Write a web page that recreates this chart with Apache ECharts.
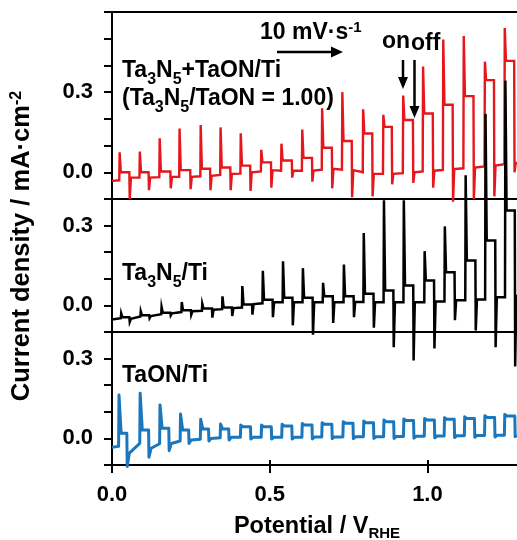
<!DOCTYPE html>
<html><head><meta charset="utf-8">
<script src="https://cdn.jsdelivr.net/npm/echarts@6/dist/echarts.min.js"></script>
<style>html,body{margin:0;padding:0;background:#fff}#c{width:517px;height:540px}</style>
</head><body><div id="c"></div>
<script>
// ---- data ----
const xTicks = [0.0, 0.5, 1.0];
const xMax = 1.284;
const yTicksTop = [-0.1, 0.0, 0.1, 0.2, 0.3, 0.4, 0.5, 0.6];
const yTicksLow = [-0.1, 0.0, 0.1, 0.2, 0.3, 0.4];
const yLabelValues = [0.0, 0.3];

// each chop cycle: [lightOnV, levelBeforeOn, onSpike, onPlateau, lightOffV, offSpike, darkLevel]
const redStart = [0.0, -0.032];
const redCycles = [
  [0.023, -0.030, 0.075, 0.000, 0.055, -0.100, -0.020],
  [0.087, -0.020, 0.078, 0.000, 0.116, -0.067, -0.020],
  [0.150, -0.018, 0.127, 0.003, 0.185, -0.060, -0.017],
  [0.213, -0.017, 0.164, 0.008, 0.248, -0.063, -0.017],
  [0.280, -0.015, 0.177, 0.013, 0.311, -0.067, -0.013],
  [0.343, -0.010, 0.168, 0.018, 0.375, -0.067, -0.006],
  [0.407, -0.005, 0.146, 0.025, 0.438, -0.070, 0.000],
  [0.472, 0.003, 0.084, 0.037, 0.504, -0.058, 0.008],
  [0.536, 0.006, 0.107, 0.044, 0.570, -0.020, 0.006],
  [0.602, 0.006, 0.160, 0.054, 0.634, -0.035, 0.006],
  [0.665, 0.010, 0.240, 0.092, 0.697, -0.060, 0.013],
  [0.729, 0.010, 0.300, 0.117, 0.760, -0.093, 0.008],
  [0.795, 0.000, 0.236, 0.145, 0.825, -0.090, -0.006],
  [0.859, -0.006, 0.215, 0.170, 0.887, -0.045, -0.006],
  [0.922, -0.003, 0.287, 0.196, 0.954, -0.040, 0.000],
  [0.985, 0.003, 0.396, 0.220, 1.017, -0.058, 0.006],
  [1.049, 0.009, 0.497, 0.253, 1.080, -0.110, 0.012],
  [1.114, 0.015, 0.510, 0.285, 1.146, -0.100, 0.018],
  [1.181, 0.022, 0.414, 0.345, 1.211, -0.090, 0.025],
  [1.244, 0.030, 0.540, 0.417, 1.275, 0.000, 0.035]
];

const blackStart = [0.0, -0.053];
const blackCycles = [
  [0.028, -0.048, -0.030, -0.045, 0.055, -0.062, -0.050],
  [0.090, -0.042, -0.022, -0.037, 0.118, -0.048, -0.040],
  [0.156, -0.033, -0.006, -0.028, 0.185, -0.038, -0.030],
  [0.220, -0.025, 0.013, -0.018, 0.250, -0.035, -0.022],
  [0.285, -0.020, 0.006, -0.012, 0.317, -0.046, -0.016],
  [0.349, -0.014, 0.034, -0.008, 0.380, -0.040, -0.010],
  [0.412, -0.008, 0.073, 0.003, 0.444, -0.035, 0.005],
  [0.477, 0.008, 0.130, 0.021, 0.509, -0.044, 0.013],
  [0.541, 0.012, 0.166, 0.029, 0.572, -0.075, 0.012],
  [0.604, 0.012, 0.140, 0.029, 0.636, -0.110, 0.012],
  [0.668, 0.012, 0.085, 0.034, 0.700, -0.066, 0.012],
  [0.734, 0.012, 0.154, 0.034, 0.766, -0.044, 0.013],
  [0.797, 0.013, 0.272, 0.044, 0.829, -0.084, 0.012],
  [0.861, 0.012, 0.395, 0.056, 0.892, -0.157, 0.012],
  [0.924, 0.012, 0.395, 0.075, 0.955, -0.207, 0.012],
  [0.990, 0.012, 0.204, 0.094, 1.021, -0.162, 0.015],
  [1.054, 0.015, 0.297, 0.125, 1.086, -0.056, 0.019],
  [1.120, 0.019, 0.489, 0.169, 1.152, -0.094, 0.022],
  [1.183, 0.022, 0.720, 0.244, 1.215, -0.157, 0.031],
  [1.246, 0.031, 0.845, 0.357, 1.277, -0.230, 0.040]
];

const blueStart = [0.0, -0.033];
const blueCycles = [
  [0.021, -0.030, 0.163, 0.019, 0.047, -0.106, -0.055],
  [0.088, -0.019, 0.170, 0.032, 0.116, -0.071, -0.037],
  [0.151, -0.020, 0.126, 0.038, 0.180, -0.046, -0.019],
  [0.216, -0.010, 0.092, 0.032, 0.243, -0.019, -0.006],
  [0.280, -0.003, 0.072, 0.035, 0.306, -0.010, 0.000],
  [0.343, 0.002, 0.054, 0.035, 0.370, -0.006, 0.004],
  [0.407, 0.004, 0.050, 0.044, 0.439, -0.002, 0.004],
  [0.473, 0.004, 0.050, 0.044, 0.505, -0.002, 0.004],
  [0.538, 0.004, 0.053, 0.047, 0.570, -0.002, 0.004],
  [0.602, 0.004, 0.056, 0.050, 0.634, -0.002, 0.005],
  [0.665, 0.005, 0.059, 0.053, 0.697, -0.001, 0.005],
  [0.732, 0.005, 0.063, 0.057, 0.764, -0.001, 0.006],
  [0.797, 0.006, 0.065, 0.059, 0.829, 0.000, 0.006],
  [0.861, 0.006, 0.069, 0.063, 0.893, 0.000, 0.007],
  [0.924, 0.007, 0.073, 0.067, 0.956, 0.001, 0.008],
  [0.990, 0.008, 0.075, 0.069, 1.022, 0.002, 0.009],
  [1.053, 0.009, 0.078, 0.072, 1.085, 0.003, 0.010],
  [1.117, 0.010, 0.081, 0.075, 1.149, 0.004, 0.011],
  [1.181, 0.011, 0.085, 0.079, 1.213, 0.005, 0.012],
  [1.244, 0.012, 0.090, 0.084, 1.277, 0.006, 0.013]
];

// ---- build line vertices from the read cycle values ----
function buildCurve(start, cycles, decay) {
  const pts = [start.slice()];
  cycles.forEach(function (c) {
    const on = c[0], base = c[1], peak = c[2], plat = c[3], off = c[4], neg = c[5], dark = c[6];
    pts.push([on, base], [on + 0.0012, peak], [on + decay, plat], [off, plat],
             [off + 0.0012, neg], [Math.min(off + decay, xMax), dark]);
  });
  const last = pts[pts.length - 1];
  if (last[0] < xMax) pts.push([xMax, last[1]]);
  return pts;
}

const FONT = 'Arial, "Liberation Sans", sans-serif';
const axisLineStyle = { color: '#000', width: 2 };

function xAxisDivider(grid, pos) {
  return {
    type: 'value', gridIndex: grid, position: pos, min: 0, max: xMax,
    axisLine: { show: true, onZero: false, lineStyle: axisLineStyle },
    axisTick: { show: false }, axisLabel: { show: false }, splitLine: { show: false }
  };
}
function yAxisPanel(grid, min, max, ticks) {
  return {
    type: 'value', gridIndex: grid, min: min, max: max, interval: 0.1,
    axisLine: { show: true, onZero: false, lineStyle: axisLineStyle },
    axisTick: { show: true, inside: false, length: 8, lineStyle: { color: '#000', width: 2 }, customValues: ticks },
    axisLabel: {
      show: true, customValues: yLabelValues, margin: 19,
      formatter: function (v) { return v.toFixed(1); },
      color: '#000', fontFamily: FONT, fontWeight: 'bold', fontSize: 22
    },
    splitLine: { show: false }
  };
}

const chart = echarts.init(document.getElementById('c'), null, { renderer: 'canvas' });

const bold = { fontFamily: FONT, fontWeight: 'bold', fill: '#000' };
function richText(x, y, text, size, lh, subSize) {
  const s = subSize || Math.round(size * 0.66);
  const r = {
    sub: { fontFamily: FONT, fontWeight: 'bold', fontSize: s, lineHeight: s, verticalAlign: 'bottom', fill: '#000' },
    sup: { fontFamily: FONT, fontWeight: 'bold', fontSize: s, lineHeight: s, verticalAlign: 'top', fill: '#000' }
  };
  return {
    type: 'text', x: x, y: y, silent: true,
    style: Object.assign({}, bold, {
      text: text, fontSize: size, lineHeight: lh,
      textAlign: 'left', textVerticalAlign: 'middle', rich: r
    })
  };
}

const option = {
  animation: false,
  backgroundColor: '#fff',
  grid: [
    { left: 112, right: 0, top: 12, height: 187 },
    { left: 112, right: 0, top: 199, height: 133 },
    { left: 112, right: 0, top: 332, height: 133 },
    { left: 112, right: 0, top: 332, height: 133 }
  ],
  xAxis: [
    xAxisDivider(0, 'bottom'),
    xAxisDivider(1, 'bottom'),
    {
      type: 'value', gridIndex: 2, position: 'bottom', min: 0, max: xMax, interval: 0.5,
      axisLine: { show: true, onZero: false, lineStyle: axisLineStyle },
      axisTick: { show: false },
      axisLabel: {
        show: true, customValues: xTicks, margin: 19,
        formatter: function (v) { return v.toFixed(1); },
        color: '#000', fontFamily: FONT, fontWeight: 'bold', fontSize: 22
      },
      splitLine: { show: false }
    },
    xAxisDivider(0, 'top'),
    {
      type: 'value', gridIndex: 3, position: 'bottom', offset: -5, min: 0, max: xMax, interval: 0.5,
      axisLine: { show: false, onZero: false },
      axisTick: { show: true, inside: false, length: 13, lineStyle: { color: '#000', width: 2 }, customValues: xTicks },
      axisLabel: { show: false }, splitLine: { show: false }
    }
  ],
  yAxis: [
    yAxisPanel(0, -0.1, 0.6, yTicksTop),
    yAxisPanel(1, -0.1, 0.4, yTicksLow),
    yAxisPanel(2, -0.1, 0.4, yTicksLow),
    { type: 'value', gridIndex: 3, min: -0.1, max: 0.4, show: false }
  ],
  series: [
    {
      name: 'Ta3N5+TaON/Ti', type: 'line', xAxisIndex: 0, yAxisIndex: 0,
      data: buildCurve(redStart, redCycles, 0.005), showSymbol: false, clip: false, z: 2,
      lineStyle: { color: '#e5161c', width: 2.4, join: 'miter' }
    },
    {
      name: 'Ta3N5/Ti', type: 'line', xAxisIndex: 1, yAxisIndex: 1,
      data: buildCurve(blackStart, blackCycles, 0.005), showSymbol: false, clip: false, z: 3,
      lineStyle: { color: '#000', width: 2.5, join: 'miter' }
    },
    {
      name: 'TaON/Ti', type: 'line', xAxisIndex: 2, yAxisIndex: 2,
      data: buildCurve(blueStart, blueCycles, 0.008), showSymbol: false, clip: false, z: 2,
      lineStyle: { color: '#1b77bd', width: 3, join: 'round' }
    }
  ],
  graphic: [
    // y axis title
    {
      type: 'text', x: 22, y: 246, rotation: Math.PI / 2, silent: true,
      style: Object.assign({}, bold, {
        text: 'Current density / mA·cm{sup|-2}', fontSize: 25.5, lineHeight: 27,
        textAlign: 'center', textVerticalAlign: 'middle',
        rich: { sup: { fontFamily: FONT, fontWeight: 'bold', fontSize: 16, lineHeight: 16, verticalAlign: 'top', fill: '#000' } }
      })
    },
    // x axis title
    {
      type: 'text', x: 317, y: 527, silent: true,
      style: Object.assign({}, bold, {
        text: 'Potential / V{sub|RHE}', fontSize: 23.5, lineHeight: 28,
        textAlign: 'center', textVerticalAlign: 'middle',
        rich: { sub: { fontFamily: FONT, fontWeight: 'bold', fontSize: 15, lineHeight: 15, verticalAlign: 'bottom', fill: '#000' } }
      })
    },
    richText(260, 33, '10 mV·s{sup|-1}', 23, 25, 15),
    richText(382, 42, 'on', 23, 24),
    richText(411, 44, 'off', 23, 24),
    richText(122, 71, 'Ta{sub|3}N{sub|5}+TaON/Ti', 23, 33, 16),
    richText(122, 99, '(Ta{sub|3}N{sub|5}/TaON = 1.00)', 23, 33, 16),
    richText(122, 274, 'Ta{sub|3}N{sub|5}/Ti', 23, 33, 16),
    richText(122, 376, 'TaON/Ti', 23, 24),
    // sweep arrow
    { type: 'line', silent: true, shape: { x1: 277, y1: 52, x2: 333, y2: 52 }, style: { stroke: '#000', lineWidth: 2.5 } },
    { type: 'polygon', silent: true, shape: { points: [[343, 52], [331, 46.5], [331, 57.5]] }, style: { fill: '#000' } },
    // on arrow
    { type: 'line', silent: true, shape: { x1: 403, y1: 60, x2: 403, y2: 80 }, style: { stroke: '#000', lineWidth: 2.5 } },
    { type: 'polygon', silent: true, shape: { points: [[403, 89], [398, 77], [408, 77]] }, style: { fill: '#000' } },
    // off arrow
    { type: 'line', silent: true, shape: { x1: 414.5, y1: 60, x2: 414.5, y2: 109 }, style: { stroke: '#000', lineWidth: 2.5 } },
    { type: 'polygon', silent: true, shape: { points: [[414.5, 118], [409.5, 106], [419.5, 106]] }, style: { fill: '#000' } }
  ]
};
chart.setOption(option);
</script>
</body></html>
